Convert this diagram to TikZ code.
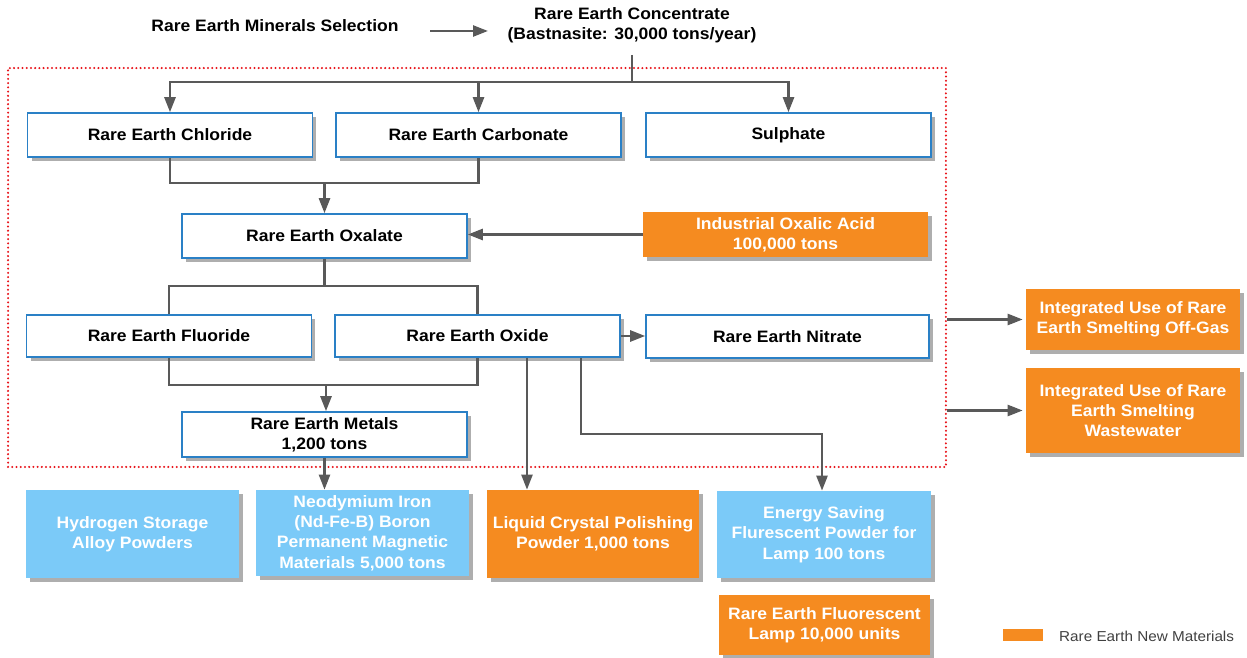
\documentclass[tikz,border=0pt]{standalone}
\usepackage{xcolor}
\usepackage{fontspec}
\setmainfont{Liberation Sans}[FakeStretch=1.06]
\usetikzlibrary{arrows.meta,shadows}

\definecolor{boxblue}{HTML}{2A80C6}
\definecolor{neworange}{HTML}{F58B20}
\definecolor{prodblue}{HTML}{7BCAF8}
\definecolor{linkgray}{HTML}{595959}
\definecolor{framered}{HTML}{E8141B}
\newcommand{\boxfont}{\fontsize{9.4}{11.6}\selectfont\bfseries}

\begin{document}
\begin{tikzpicture}[x=0.02cm,y=-0.02cm,>={Triangle[length=0.3cm,width=0.22cm]},
  stage/.style={draw=boxblue, fill=white, line width=0.9pt, inner sep=0pt,
    minimum width=5.7cm, minimum height=0.88cm, font=\boxfont,
    drop shadow={shadow xshift=0.08cm, shadow yshift=-0.08cm, opacity=0.45, fill=black!70}},
  newmat/.style={fill=neworange, text=white, inner sep=0pt, align=center, font=\boxfont,
    drop shadow={shadow xshift=0.08cm, shadow yshift=-0.08cm, opacity=0.45, fill=black!70}},
  product/.style={newmat, fill=prodblue},
  link/.style={draw=linkgray, line width=1.4pt},
  frame/.style={draw=framered, line width=1.3pt, line cap=round,
    dash pattern=on 0pt off 2.4pt}]
\useasboundingbox (0,0) rectangle (1247,658);

% dotted frame round the smelting stages
\node[frame, minimum width=18.76cm, minimum height=7.98cm] (frame) at (477,267.5) {};

\node[font=\boxfont] (sel) at (275,26) {Rare Earth Minerals Selection};
\node[font=\boxfont, align=center] (conc) at (632,25.5) {Rare Earth Concentrate\\(Bastnasite: 30,000 tons/year)};

% stages
\node[stage] (chl) at (170,135) {Rare Earth Chloride};
\node[stage] (carb) at (478.5,135) {Rare Earth Carbonate};
\node[stage] (sulph) at (788.5,135) {Sulphate};
\node[stage] (oxal) at (324.5,236) {Rare Earth Oxalate};
\node[newmat, minimum width=5.7cm, minimum height=0.9cm] (acid) at (785.5,234.5) {Industrial Oxalic Acid\\100,000 tons};
\node[stage, minimum height=0.84cm] (fluor) at (169,336) {Rare Earth Fluoride};
\node[stage, minimum height=0.84cm] (oxide) at (477.5,336) {Rare Earth Oxide};
\node[stage, minimum width=5.66cm, minimum height=0.86cm] (nitr) at (787.5,336.5) {Rare Earth Nitrate};
\node[stage, align=center, minimum height=0.9cm] (metal) at (324.5,434.5) {Rare Earth Metals\\1,200 tons};

% by-products
\node[newmat, minimum width=4.28cm, minimum height=1.22cm] (offgas) at (1133,319.5) {Integrated Use of Rare\\Earth Smelting Off-Gas};
\node[newmat, minimum width=4.28cm, minimum height=1.7cm] (waste) at (1133,410.5) {Integrated Use of Rare\\Earth Smelting\\Wastewater};

% products
\node[product, minimum width=4.26cm, minimum height=1.76cm] (hydro) at (132.5,534) {Hydrogen Storage\\Alloy Powders};
\node[product, minimum width=4.26cm, minimum height=1.72cm] (ndfeb) at (362.5,533) {Neodymium Iron\\(Nd-Fe-B) Boron\\Permanent Magnetic\\Materials 5,000 tons};
\node[newmat, minimum width=4.24cm, minimum height=1.76cm] (lcd) at (593,534) {Liquid Crystal Polishing\\Powder 1,000 tons};
\node[product, minimum width=4.28cm, minimum height=1.74cm] (energy) at (824,534.5) {Energy Saving\\Flurescent Powder for\\Lamp 100 tons};
\node[newmat, minimum width=4.22cm, minimum height=1.2cm] (lamp) at (824.5,625) {Rare Earth Fluorescent\\Lamp 10,000 units};

% legend
\node[fill=neworange, minimum width=0.8cm, minimum height=0.24cm, inner sep=0pt] (legkey) at (1023,635) {};
\node[anchor=west, text=black!75, font=\fontsize{8.2}{9.8}\selectfont] (legtext) at (1053,636) {Rare Earth New Materials};

% connectors
\coordinate (selout) at (430,31);
\coordinate (concin) at (488,31);
\draw[link,->] (selout) -- (concin);

\coordinate (concout) at (632,55);
\coordinate (split1) at (632,82);
\draw[link] (concout) -- (split1);
\draw[link,->] (split1) -| (chl.north);
\draw[link,->] (split1) -| (carb.north);
\draw[link,->] (split1) -| (sulph.north);

\coordinate (join1) at (324.5,183);
\draw[link] (chl.south) |- (join1) -| (carb.south);
\draw[link,->] (join1) -- (oxal.north);
\draw[link,->] (acid.west) -- (acid.west -| oxal.east);

\coordinate (split2) at (324.5,286);
\draw[link] (oxal.south) -- (split2) -| (fluor.north);
\draw[link] (split2) -| (oxide.north);
\draw[link,->] (oxide.east) -- (oxide.east -| nitr.west);

\coordinate (join2) at (326,385);
\draw[link] (fluor.south) |- (join2) -| (oxide.south);
\draw[link,->] (join2) -- (join2 |- metal.north);
\draw[link,->] (metal.south) -- (metal.south |- ndfeb.north);

\draw[link,->] ([xshift=0.99cm]oxide.south) -- ([xshift=0.99cm]oxide.south |- lcd.north);
\coordinate (turn) at (822,434);
\draw[link,->] ([xshift=2.07cm]oxide.south) |- (turn) -- (turn |- energy.north);

\draw[link,->] (frame.east |- offgas.west) -- ([xshift=-0.06cm]offgas.west);
\draw[link,->] (frame.east |- waste.west) -- ([xshift=-0.06cm]waste.west);
\end{tikzpicture}
\end{document}
